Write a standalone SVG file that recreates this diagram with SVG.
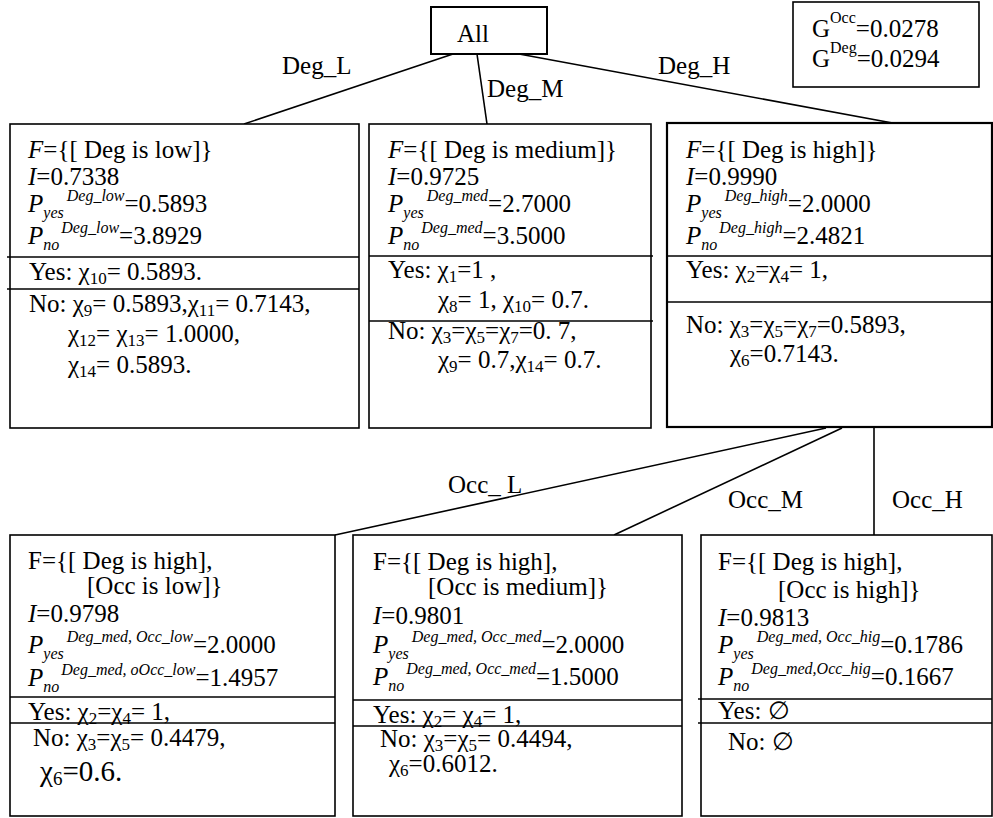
<svg xmlns="http://www.w3.org/2000/svg" width="993" height="818" viewBox="0 0 993 818">
<style>
.box{fill:#fff;stroke:#000;stroke-width:1.6}
.div{stroke:#000;stroke-width:1.6}
.con{stroke:#000;stroke-width:1.6;fill:none}
text{font-family:"Liberation Serif","Times New Roman",serif;font-size:25px;fill:#000}
.i{font-style:italic}
.s{font-size:16px;font-style:italic}
.su{font-size:16px}
.sb{font-size:17px}
</style>
<rect width="993" height="818" fill="#fff"/>
<g id="connectors">
<line class="con" x1="453" y1="54" x2="244" y2="124"/>
<line class="con" x1="477" y1="54" x2="487" y2="124"/>
<line class="con" x1="519" y1="54" x2="898" y2="124"/>
<line class="con" x1="826" y1="428" x2="335" y2="535"/>
<line class="con" x1="842" y1="428" x2="614" y2="535"/>
<line class="con" x1="874" y1="428" x2="874" y2="535"/>
<text x="282" y="74">Deg_L</text>
<text x="487" y="97">Deg_M</text>
<text x="658" y="74">Deg_H</text>
<text x="448" y="493">Occ_ L</text>
<text x="728" y="508">Occ_M</text>
<text x="892" y="508">Occ_H</text>
</g>
<g id="all">
<rect class="box" x="431" y="7" width="116" height="47" style="stroke-width:2"/>
<text x="457" y="42">All</text>
</g>
<g id="gain">
<rect class="box" x="793" y="2" width="186" height="85"/>
<text x="812" y="37">G<tspan class="su" dy="-14">Occ</tspan><tspan dy="14">=0.0278</tspan></text>
<text x="812" y="67">G<tspan class="su" dy="-14">Deg</tspan><tspan dy="14">=0.0294</tspan></text>
</g>
<g id="deg_low">
<rect class="box" x="10" y="124" width="349" height="304"/>
<line class="div" x1="7" y1="257" x2="359" y2="257"/>
<line class="div" x1="7" y1="289" x2="359" y2="289"/>
<text x="28" y="158"><tspan class="i">F</tspan>={[ Deg is low]}</text>
<text x="28" y="185"><tspan class="i">I</tspan>=0.7338</text>
<text x="28" y="212"><tspan class="i">P</tspan><tspan class="s" dy="6">yes</tspan><tspan class="s" dx="3" dy="-17">Deg_low</tspan><tspan dy="11">=0.5893</tspan></text>
<text x="28" y="244"><tspan class="i">P</tspan><tspan class="s" dy="6">no</tspan><tspan class="s" dx="2" dy="-17">Deg_low</tspan><tspan dy="11">=3.8929</tspan></text>
<text x="29" y="280">Yes: χ<tspan class="sb" dy="4">10</tspan><tspan dy="-4">= 0.5893.</tspan></text>
<text x="29" y="312">No: χ<tspan class="sb" dy="4">9</tspan><tspan dy="-4">= 0.5893,χ</tspan><tspan class="sb" dy="4">11</tspan><tspan dy="-4">= 0.7143,</tspan></text>
<text x="68" y="342">χ<tspan class="sb" dy="4">12</tspan><tspan dy="-4">= χ</tspan><tspan class="sb" dy="4">13</tspan><tspan dy="-4">= 1.0000,</tspan></text>
<text x="68" y="373">χ<tspan class="sb" dy="4">14</tspan><tspan dy="-4">= 0.5893.</tspan></text>
</g>
<g id="deg_med">
<rect class="box" x="369" y="124" width="282" height="304"/>
<line class="div" x1="369" y1="256" x2="653" y2="256"/>
<line class="div" x1="369" y1="321" x2="653" y2="321"/>
<text x="388" y="158"><tspan class="i">F</tspan>={[ Deg is medium]}</text>
<text x="388" y="185"><tspan class="i">I</tspan>=0.9725</text>
<text x="388" y="212"><tspan class="i">P</tspan><tspan class="s" dy="6">yes</tspan><tspan class="s" dx="3" dy="-17">Deg_med</tspan><tspan dy="11">=2.7000</tspan></text>
<text x="388" y="244"><tspan class="i">P</tspan><tspan class="s" dy="6">no</tspan><tspan class="s" dx="2" dy="-17">Deg_med</tspan><tspan dy="11">=3.5000</tspan></text>
<text x="388" y="278">Yes: χ<tspan class="sb" dy="4">1</tspan><tspan dy="-4">=1 ,</tspan></text>
<text x="438" y="308">χ<tspan class="sb" dy="4">8</tspan><tspan dy="-4">= 1, χ</tspan><tspan class="sb" dy="4">10</tspan><tspan dy="-4">= 0.7.</tspan></text>
<text x="388" y="339">No: χ<tspan class="sb" dy="4">3</tspan><tspan dy="-4">=χ</tspan><tspan class="sb" dy="4">5</tspan><tspan dy="-4">=χ</tspan><tspan class="sb" dy="4">7</tspan><tspan dy="-4">=0. 7,</tspan></text>
<text x="438" y="368">χ<tspan class="sb" dy="4">9</tspan><tspan dy="-4">= 0.7,χ</tspan><tspan class="sb" dy="4">14</tspan><tspan dy="-4">= 0.7.</tspan></text>
</g>
<g id="deg_high">
<rect class="box" x="667" y="123" width="325" height="304" style="stroke-width:2.2"/>
<line class="div" x1="667" y1="256" x2="992" y2="256"/>
<line class="div" x1="667" y1="302" x2="992" y2="302"/>
<text x="686" y="158"><tspan class="i">F</tspan>={[ Deg is high]}</text>
<text x="686" y="185"><tspan class="i">I</tspan>=0.9990</text>
<text x="686" y="212"><tspan class="i">P</tspan><tspan class="s" dy="6">yes</tspan><tspan class="s" dx="3" dy="-17">Deg_high</tspan><tspan dy="11">=2.0000</tspan></text>
<text x="686" y="244"><tspan class="i">P</tspan><tspan class="s" dy="6">no</tspan><tspan class="s" dx="2" dy="-17">Deg_high</tspan><tspan dy="11">=2.4821</tspan></text>
<text x="686" y="278">Yes: χ<tspan class="sb" dy="4">2</tspan><tspan dy="-4">=χ</tspan><tspan class="sb" dy="4">4</tspan><tspan dy="-4">= 1,</tspan></text>
<text x="686" y="333">No: χ<tspan class="sb" dy="4">3</tspan><tspan dy="-4">=χ</tspan><tspan class="sb" dy="4">5</tspan><tspan dy="-4">=χ</tspan><tspan class="sb" dy="4">7</tspan><tspan dy="-4">=0.5893,</tspan></text>
<text x="730" y="362">χ<tspan class="sb" dy="4">6</tspan><tspan dy="-4">=0.7143.</tspan></text>
</g>
<g id="occ_low">
<rect class="box" x="10" y="535" width="325" height="281"/>
<line class="div" x1="10" y1="697" x2="335" y2="697"/>
<line class="div" x1="10" y1="723" x2="335" y2="723"/>
<text x="28" y="569">F={[ Deg is high],</text>
<text x="87" y="594">[Occ is low]}</text>
<text x="28" y="622"><tspan class="i">I</tspan>=0.9798</text>
<text x="28" y="653"><tspan class="i">P</tspan><tspan class="s" dy="6">yes</tspan><tspan class="s" dx="3" dy="-17">Deg_med, Occ_low</tspan><tspan dy="11">=2.0000</tspan></text>
<text x="28" y="686"><tspan class="i">P</tspan><tspan class="s" dy="6">no</tspan><tspan class="s" dx="2" dy="-17">Deg_med, oOcc_low</tspan><tspan dy="11">=1.4957</tspan></text>
<text x="28" y="720">Yes: χ<tspan class="sb" dy="4">2</tspan><tspan dy="-4">=χ</tspan><tspan class="sb" dy="4">4</tspan><tspan dy="-4">= 1,</tspan></text>
<text x="33" y="746">No: χ<tspan class="sb" dy="4">3</tspan><tspan dy="-4">=χ</tspan><tspan class="sb" dy="4">5</tspan><tspan dy="-4">= 0.4479,</tspan></text>
<text x="40" y="781" style="font-size:29px">χ<tspan style="font-size:19px" dy="4">6</tspan><tspan dy="-4">=0.6.</tspan></text>
</g>
<g id="occ_med">
<rect class="box" x="353" y="535" width="329" height="281"/>
<line class="div" x1="353" y1="700" x2="682" y2="700"/>
<line class="div" x1="353" y1="726" x2="682" y2="726"/>
<text x="373" y="570">F={[ Deg is high],</text>
<text x="428" y="595">[Occ is medium]}</text>
<text x="373" y="624"><tspan class="i">I</tspan>=0.9801</text>
<text x="373" y="653"><tspan class="i">P</tspan><tspan class="s" dy="6">yes</tspan><tspan class="s" dx="3" dy="-17">Deg_med, Occ_med</tspan><tspan dy="11">=2.0000</tspan></text>
<text x="373" y="685"><tspan class="i">P</tspan><tspan class="s" dy="6">no</tspan><tspan class="s" dx="2" dy="-17">Deg_med, Occ_med</tspan><tspan dy="11">=1.5000</tspan></text>
<text x="373" y="723">Yes: χ<tspan class="sb" dy="4">2</tspan><tspan dy="-4">= χ</tspan><tspan class="sb" dy="4">4</tspan><tspan dy="-4">= 1,</tspan></text>
<text x="380" y="747">No: χ<tspan class="sb" dy="4">3</tspan><tspan dy="-4">=χ</tspan><tspan class="sb" dy="4">5</tspan><tspan dy="-4">= 0.4494,</tspan></text>
<text x="389" y="772">χ<tspan class="sb" dy="4">6</tspan><tspan dy="-4">=0.6012.</tspan></text>
</g>
<g id="occ_high">
<rect class="box" x="701" y="535" width="291" height="281"/>
<line class="div" x1="698" y1="699" x2="992" y2="699"/>
<line class="div" x1="698" y1="723" x2="992" y2="723"/>
<text x="718" y="570">F={[ Deg is high],</text>
<text x="778" y="598">[Occ is high]}</text>
<text x="718" y="626"><tspan class="i">I</tspan>=0.9813</text>
<text x="718" y="653"><tspan class="i">P</tspan><tspan class="s" dy="6">yes</tspan><tspan class="s" dx="3" dy="-17">Deg_med, Occ_hig</tspan><tspan dy="11">=0.1786</tspan></text>
<text x="718" y="685"><tspan class="i">P</tspan><tspan class="s" dy="6">no</tspan><tspan class="s" dx="2" dy="-17">Deg_med,Occ_hig</tspan><tspan dy="11">=0.1667</tspan></text>
<text x="718" y="719">Yes: ∅</text>
<text x="728" y="750">No: ∅</text>
</g>
</svg>
